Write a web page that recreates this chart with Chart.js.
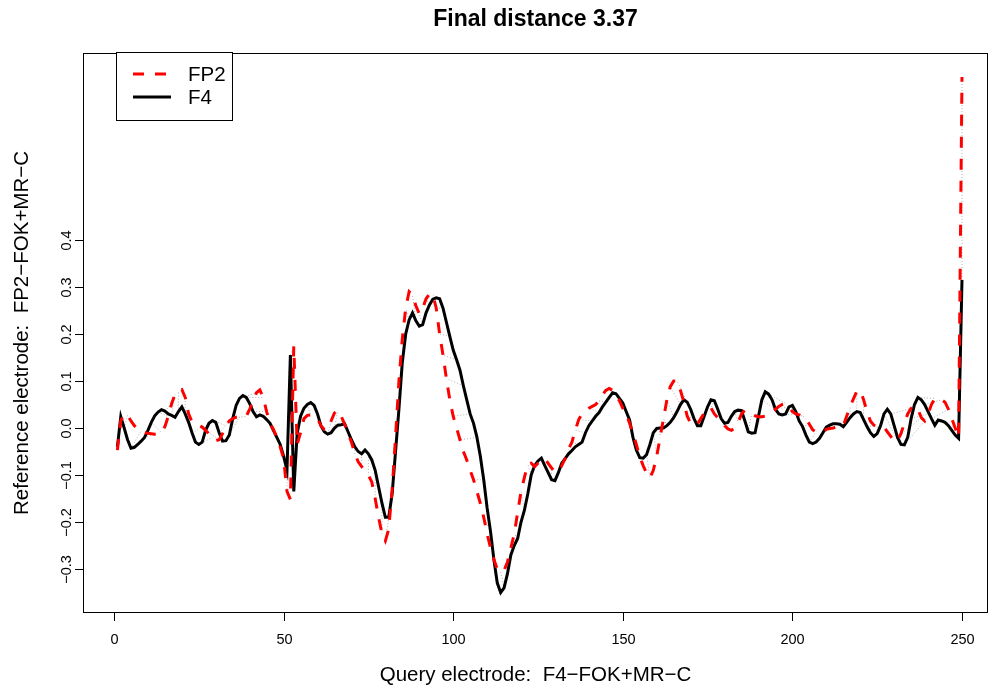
<!DOCTYPE html>
<html>
<head>
<meta charset="utf-8">
<script src="https://cdn.jsdelivr.net/npm/chart.js@4.4.1/dist/chart.umd.min.js"></script>
<style>
html, body { margin: 0; padding: 0; background: #fff; }
</style>
</head>
<body>
<canvas id="mycanvas" width="992" height="690"></canvas>
<script>
// query series (black), F4-FOK+MR-C, samples 1..250
var f4 = [
	-0.04, 0.024, 0.0, -0.025, -0.043, -0.041, -0.035, -0.028, -0.02, -0.005,
	0.012, 0.026, 0.034, 0.039, 0.036, 0.03, 0.027, 0.023, 0.035, 0.045,
	0.03, 0.012, -0.01, -0.03, -0.035, -0.03, -0.005, 0.01, 0.016, 0.012,
	-0.01, -0.028, -0.027, -0.015, 0.02, 0.048, 0.063, 0.069, 0.065, 0.052,
	0.035, 0.024, 0.028, 0.025, 0.018, 0.01, -0.005, -0.02, -0.035, -0.06,
	-0.09, 0.155, -0.135, -0.011, 0.025, 0.042, 0.05, 0.054, 0.048, 0.03,
	0.005, -0.008, -0.013, -0.01, 0.0, 0.006, 0.007, 0.009, -0.008, -0.025,
	-0.04, -0.05, -0.055, -0.047, -0.055, -0.068, -0.09, -0.125, -0.16, -0.19,
	-0.19, -0.14, -0.05, 0.04, 0.14, 0.2, 0.23, 0.245, 0.228, 0.217,
	0.22, 0.245, 0.262, 0.274, 0.277, 0.275, 0.255, 0.225, 0.195, 0.166,
	0.145, 0.123, 0.09, 0.06, 0.03, 0.01, -0.02, -0.06, -0.11, -0.17,
	-0.22, -0.28, -0.33, -0.35, -0.34, -0.31, -0.27, -0.25, -0.235, -0.2,
	-0.175, -0.14, -0.1, -0.08, -0.07, -0.064, -0.08, -0.095, -0.11, -0.112,
	-0.095, -0.075, -0.065, -0.055, -0.048, -0.04, -0.035, -0.03, -0.01, 0.005,
	0.015, 0.025, 0.033, 0.045, 0.055, 0.065, 0.075, 0.073, 0.063, 0.053,
	0.035, 0.017, -0.02, -0.047, -0.063, -0.064, -0.057, -0.035, -0.01, -0.001,
	0.0, 0.0, 0.005, 0.012, 0.022, 0.035, 0.05, 0.06, 0.055, 0.04,
	0.02, 0.005, 0.005, 0.025, 0.045, 0.06, 0.058, 0.04, 0.02, 0.01,
	0.012, 0.025, 0.035, 0.038, 0.037, 0.015, -0.008, -0.011, -0.01, 0.025,
	0.06, 0.077, 0.072, 0.06, 0.04, 0.03, 0.028, 0.03, 0.045, 0.048,
	0.035, 0.015, 0.003, -0.015, -0.03, -0.033, -0.03, -0.022, -0.01, 0.002,
	0.006, 0.009, 0.009, 0.008, 0.003, 0.012, 0.022, 0.03, 0.035, 0.033,
	0.018, 0.003, -0.01, -0.018, -0.012, 0.005, 0.03, 0.04, 0.03, 0.005,
	-0.02, -0.035, -0.036, -0.02, 0.02, 0.05, 0.065, 0.06, 0.05, 0.035,
	0.02, 0.006, 0.017, 0.015, 0.012, 0.005, -0.005, -0.015, -0.022, 0.315
];

// reference series (red dashed), FP2-FOK+MR-C
var fp2 = [
	-0.047, 0.015, 0.03, 0.027, 0.015, 0.005, -0.002, -0.006, -0.01, -0.011,
	-0.012, -0.013, -0.012, -0.01, 0.003, 0.025, 0.052, 0.072, 0.08, 0.082,
	0.065, 0.03, 0.013, 0.008, 0.006, 0.002, -0.005, -0.012, -0.02, -0.027,
	-0.025, -0.012, 0.005, 0.015, 0.02, 0.023, 0.024, 0.024, 0.025, 0.04,
	0.056, 0.075, 0.081, 0.065, 0.035, 0.01, -0.003, -0.02, -0.04, -0.065,
	-0.135, -0.152, 0.174, -0.035, -0.01, 0.02, 0.027, 0.028, 0.026, 0.02,
	0.005, -0.003, -0.003, 0.015, 0.032, 0.038, 0.025, 0.008, -0.012, -0.03,
	-0.055, -0.072, -0.082, -0.09, -0.1, -0.115, -0.15, -0.19, -0.225, -0.24,
	-0.215, -0.13, -0.02, 0.1, 0.19, 0.255, 0.29, 0.283, 0.26, 0.243,
	0.255, 0.275, 0.285, 0.284, 0.255, 0.2, 0.155, 0.105, 0.06, 0.025,
	0.0, -0.025, -0.05, -0.068, -0.09, -0.11, -0.135, -0.16, -0.19, -0.225,
	-0.255, -0.28, -0.3, -0.306, -0.303, -0.285, -0.255, -0.225, -0.18, -0.135,
	-0.105, -0.077, -0.075, -0.082, -0.075, -0.068, -0.065, -0.075, -0.085, -0.093,
	-0.093, -0.08, -0.065, -0.045, -0.03, -0.005, 0.018, 0.03, 0.037, 0.042,
	0.046, 0.05, 0.058, 0.07, 0.08, 0.084, 0.08, 0.07, 0.058, 0.042,
	0.03, 0.01, -0.011, -0.035, -0.061, -0.08, -0.096, -0.106, -0.09, -0.06,
	-0.02, 0.02, 0.06, 0.088, 0.1, 0.1, 0.08, 0.055, 0.025, 0.01,
	0.005, 0.008, 0.02, 0.032, 0.042, 0.043, 0.03, 0.022, 0.012, 0.005,
	-0.002, -0.005, 0.0, 0.012, 0.03, 0.038, 0.035, 0.03, 0.026, 0.024,
	0.024, 0.025, 0.03, 0.035, 0.04, 0.046, 0.05, 0.052, 0.045, 0.035,
	0.03, 0.028, 0.024, 0.02, 0.008, -0.004, -0.008, -0.01, -0.008, -0.003,
	-0.001, 0.0, 0.002, 0.002, 0.005, 0.025, 0.045, 0.062, 0.078, 0.08,
	0.06, 0.035, 0.015, 0.006, 0.005, 0.004, 0.002, -0.008, -0.018, -0.028,
	-0.027, -0.012, 0.01, 0.03, 0.042, 0.047, 0.04, 0.022, 0.015, 0.03,
	0.05, 0.063, 0.062, 0.06, 0.055, 0.04, 0.02, 0.0, -0.02, 0.747
];

// warping path (query index, reference index), thinned
var matchPairs = [
	[1,1],[3,4],[5,8],[7,10],[9,12],[11,14],[13,16],[15,17],[17,18],[19,19],
	[21,21],[23,26],[25,29],[27,31],[29,33],[31,35],[33,37],[35,39],[37,42],[39,44],
	[41,45],[43,46],[45,47],[47,48],[49,49],[51,51],[52,53],[53,54],[55,56],[57,58],
	[59,60],[61,62],[63,64],[65,66],[67,67],[69,69],[71,71],[73,73],[75,75],[77,77],
	[79,79],[81,80],[83,83],[85,84],[87,86],[89,88],[91,90],[93,92],[95,94],[97,95],
	[99,96],[101,97],[103,98],[105,100],[107,102],[109,106],[111,109],[113,112],[115,114],[117,116],
	[119,118],[121,120],[123,122],[125,124],[127,126],[129,129],[131,131],[133,133],[135,134],[137,135],
	[139,136],[141,137],[143,140],[145,143],[147,146],[149,148],[151,150],[153,152],[155,155],[157,158],
	[159,160],[161,161],[163,162],[165,163],[167,164],[169,166],[171,169],[173,172],[175,174],[177,176],
	[179,178],[181,181],[183,184],[185,186],[187,188],[189,191],[191,195],[193,198],[195,199],[197,201],
	[199,203],[201,204],[203,205],[205,207],[207,209],[209,211],[211,212],[213,214],[215,215],[217,217],
	[219,219],[221,221],[223,223],[225,225],[227,231],[229,235],[231,238],[233,239],[235,240],[237,242],
	[239,244],[241,246],[243,248],[245,249],[247,249],[249,249],[250,250]
];

var xTicks = [0, 50, 100, 150, 200, 250];
var yTicks = [-0.3, -0.2, -0.1, 0.0, 0.1, 0.2, 0.3, 0.4];

var titleText = 'Final distance 3.37';
var xTitle = 'Query electrode:  F4\u2212FOK+MR\u2212C';
var yTitle = 'Reference electrode:  FP2\u2212FOK+MR\u2212C';

var FONT = '"Liberation Sans", Arial, Helvetica, sans-serif';

var f4Points = f4.map(function(v, i) { return {x: i + 1, y: v}; });
var fp2Points = fp2.map(function(v, i) { return {x: i + 1, y: v}; });
var matchPoints = [];
matchPairs.forEach(function(p) {
	matchPoints.push({x: p[0], y: f4[p[0] - 1]});
	matchPoints.push({x: p[1], y: fp2[p[1] - 1]});
	matchPoints.push({x: p[1], y: null});
});

// axes, box, titles and legend drawn the way R's base graphics does it
var rStyle = {
	id: 'rStyle',
	afterDraw: function(chart) {
		var ctx = chart.ctx, a = chart.chartArea;
		var xs = chart.scales.x, ys = chart.scales.y;
		ctx.save();
		ctx.setLineDash([]);
		ctx.strokeStyle = '#000';
		ctx.fillStyle = '#000';
		ctx.lineWidth = 1;
		ctx.strokeRect(a.left + 0.5, a.top + 0.5, a.right - a.left - 1, a.bottom - a.top - 1);

		ctx.font = '14.5px ' + FONT;
		ctx.textAlign = 'center';
		ctx.textBaseline = 'middle';
		xTicks.forEach(function(t) {
			var px = Math.round(xs.getPixelForValue(t)) + 0.5;
			ctx.beginPath();
			ctx.moveTo(px, a.bottom);
			ctx.lineTo(px, a.bottom + 8);
			ctx.stroke();
			ctx.fillText(String(t), px, a.bottom + 27);
		});
		yTicks.forEach(function(t) {
			var py = Math.round(ys.getPixelForValue(t)) + 0.5;
			ctx.beginPath();
			ctx.moveTo(a.left, py);
			ctx.lineTo(a.left - 8, py);
			ctx.stroke();
			ctx.save();
			ctx.translate(a.left - 16, py);
			ctx.rotate(-Math.PI / 2);
			ctx.fillText(t.toFixed(1).replace('-', '\u2212'), 0, 0);
			ctx.restore();
		});

		var cx = (a.left + a.right) / 2, cy = (a.top + a.bottom) / 2;
		ctx.font = '20.5px ' + FONT;
		ctx.fillText(xTitle, cx, 675);
		ctx.save();
		ctx.translate(22, cy);
		ctx.rotate(-Math.PI / 2);
		ctx.fillText(yTitle, 0, 0);
		ctx.restore();

		ctx.font = 'bold 23px ' + FONT;
		ctx.fillText(titleText, cx, 20);

		// legend
		ctx.fillStyle = '#fff';
		ctx.fillRect(116.5, 52.5, 116, 68);
		ctx.strokeStyle = '#000';
		ctx.strokeRect(116.5, 52.5, 116, 68);
		ctx.lineWidth = 3;
		ctx.strokeStyle = '#ff0000';
		ctx.setLineDash([11, 11]);
		ctx.beginPath(); ctx.moveTo(133, 74); ctx.lineTo(171, 74); ctx.stroke();
		ctx.setLineDash([]);
		ctx.strokeStyle = '#000';
		ctx.beginPath(); ctx.moveTo(133, 97); ctx.lineTo(171, 97); ctx.stroke();
		ctx.fillStyle = '#000';
		ctx.font = '20.5px ' + FONT;
		ctx.textAlign = 'left';
		ctx.fillText('FP2', 188, 75);
		ctx.fillText('F4', 188, 98);
		ctx.restore();
	}
};

var ctx = document.getElementById('mycanvas').getContext('2d');
var chart = new Chart(ctx, {
	type: 'line',
	data: {
		datasets: [
			{
				label: 'FP2',
				data: fp2Points,
				borderColor: '#ff0000',
				borderWidth: 3,
				borderDash: [11, 11],
				pointRadius: 0,
				tension: 0,
				order: 0
			},
			{
				label: 'F4',
				data: f4Points,
				borderColor: '#000000',
				borderWidth: 3,
				pointRadius: 0,
				tension: 0,
				order: 1
			},
			{
				label: 'match',
				data: matchPoints,
				borderColor: '#b0b0b0',
				borderWidth: 1,
				borderDash: [1, 2],
				pointRadius: 0,
				spanGaps: false,
				order: 2
			}
		]
	},
	options: {
		responsive: false,
		animation: false,
		devicePixelRatio: 1,
		layout: { padding: { left: 83, right: 4, top: 53, bottom: 77 } },
		plugins: {
			legend: { display: false },
			tooltip: { enabled: false },
			title: { display: false }
		},
		scales: {
			x: { type: 'linear', min: -9.14, max: 257.67, display: false },
			y: { type: 'linear', min: -0.3936, max: 0.7979, display: false }
		}
	},
	plugins: [rStyle]
});
</script>
</body>
</html>
